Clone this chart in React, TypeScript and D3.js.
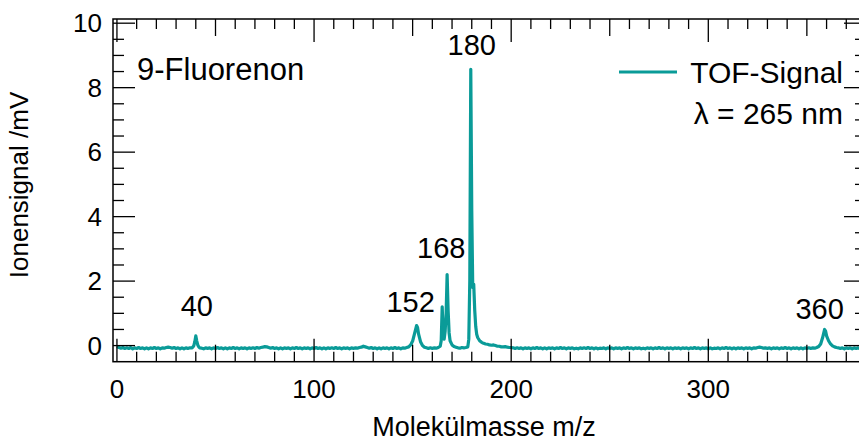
import React from "react";
import * as d3 from "d3";

const W = 859;
const H = 443;

// Mass spectrum: [m/z, signal in mV]
const spectrum: [number, number][] = [
  [0,-0.03],[1,-0.06],[2,-0.08],[3,-0.06],[4,-0.09],[5,-0.07],[6,-0.09],[7,-0.06],[8,-0.10],[9,-0.07],[10,-0.09],[11,-0.06],[12,-0.09],[13,-0.07],[14,-0.10],[15,-0.07],[16,-0.10],[17,-0.07],[18,-0.09],[19,-0.06],[20,-0.09],[21,-0.07],[22,-0.10],[23,-0.07],[24,-0.08],[25,-0.06],[26,-0.05],[27,-0.06],[28,-0.08],[29,-0.06],[30,-0.09],[31,-0.07],[32,-0.10],[33,-0.07],[34,-0.10],[35,-0.07],[36,-0.09],[37,-0.07],[38,-0.07],
  [38.5,-0.05],[39,0.0],[39.5,0.12],[40,0.30],[40.5,0.14],[41,0.02],[41.5,-0.04],[42,-0.07],
  [43,-0.08],[44,-0.10],[45,-0.07],[46,-0.09],[47,-0.07],[48,-0.10],[49,-0.07],[50,-0.09],[51,-0.06],[52,-0.09],[53,-0.07],[54,-0.10],[55,-0.07],[56,-0.10],[57,-0.07],[58,-0.09],[59,-0.06],[60,-0.09],[61,-0.07],[62,-0.10],[63,-0.07],[64,-0.09],[65,-0.07],[66,-0.10],[67,-0.07],[68,-0.09],[69,-0.07],[70,-0.09],[71,-0.06],[72,-0.08],[73,-0.06],[74,-0.05],[75,-0.03],[76,-0.04],[77,-0.06],[78,-0.08],[79,-0.06],[80,-0.09],[81,-0.07],[82,-0.10],[83,-0.07],[84,-0.10],[85,-0.07],[86,-0.09],[87,-0.07],[88,-0.10],[89,-0.07],[90,-0.09],[91,-0.06],[92,-0.09],[93,-0.07],[94,-0.10],[95,-0.07],[96,-0.09],[97,-0.07],[98,-0.10],[99,-0.07],[100,-0.09],[101,-0.06],[102,-0.09],[103,-0.07],[104,-0.10],[105,-0.07],[106,-0.10],[107,-0.07],[108,-0.09],[109,-0.07],[110,-0.09],[111,-0.06],[112,-0.09],[113,-0.07],[114,-0.10],[115,-0.07],[116,-0.09],[117,-0.07],[118,-0.10],[119,-0.07],[120,-0.09],[121,-0.07],[122,-0.08],[123,-0.06],[124,-0.05],[125,-0.02],[126,-0.04],[127,-0.06],[128,-0.08],[129,-0.06],[130,-0.09],[131,-0.07],[132,-0.10],[133,-0.07],[134,-0.10],[135,-0.07],[136,-0.09],[137,-0.07],[138,-0.10],[139,-0.07],[140,-0.09],[141,-0.06],[142,-0.09],[143,-0.07],[144,-0.10],[145,-0.07],[146,-0.08],
  [147,-0.06],[148,-0.04],[149,0.02],[150,0.14],[151,0.38],[152,0.62],[152.5,0.56],[153,0.36],[154,0.12],[155,0.0],[156,-0.05],[157,-0.07],[158,-0.09],[159,-0.07],[160,-0.09],[161,-0.07],[162,-0.08],[163,-0.06],[164,-0.02],
  [164.5,0.15],[165,1.2],[165.5,0.35],[166,0.2],[166.5,0.45],[167,1.0],[167.5,2.2],[168,1.1],[168.5,0.4],[169,0.15],[170,0.02],[171,-0.03],[172,-0.05],[173,-0.07],[174,-0.08],[175,-0.06],[176,-0.07],[177,-0.06],[178,-0.04],
  [178.5,0.2],[179,2.0],[179.5,8.57],[180,4.2],[180.5,1.8],[181,1.9],[181.5,1.1],[182,0.6],[182.5,0.35],[183,0.25],[184,0.15],[185,0.1],[186,0.07],[187,0.05],[188,0.04],[189,0.02],[190,0.01],[191,0.02],[192,0.0],[193,-0.02],[194,-0.02],[195,-0.04],[196,-0.04],[197,-0.03],[198,-0.05],[199,-0.06],[200,-0.06],
  [201,-0.07],[202,-0.09],[203,-0.07],[204,-0.09],[205,-0.07],[206,-0.10],[207,-0.07],[208,-0.09],[209,-0.07],[210,-0.10],[211,-0.07],[212,-0.09],[213,-0.06],[214,-0.09],[215,-0.07],[216,-0.10],[217,-0.07],[218,-0.10],[219,-0.07],[220,-0.09],[221,-0.07],[222,-0.10],[223,-0.07],[224,-0.09],[225,-0.06],[226,-0.09],[227,-0.07],[228,-0.10],[229,-0.07],[230,-0.09],[231,-0.07],[232,-0.10],[233,-0.08],[234,-0.10],[235,-0.07],[236,-0.09],[237,-0.07],[238,-0.09],[239,-0.06],[240,-0.09],[241,-0.07],[242,-0.10],[243,-0.07],[244,-0.10],[245,-0.08],[246,-0.09],[247,-0.07],[248,-0.10],[249,-0.07],[250,-0.09],[251,-0.07],[252,-0.10],[253,-0.07],[254,-0.09],[255,-0.07],[256,-0.10],[257,-0.07],[258,-0.09],[259,-0.06],[260,-0.09],[261,-0.07],[262,-0.10],[263,-0.07],[264,-0.09],[265,-0.07],[266,-0.10],[267,-0.08],[268,-0.10],[269,-0.07],[270,-0.09],[271,-0.07],[272,-0.10],[273,-0.07],[274,-0.09],[275,-0.06],[276,-0.09],[277,-0.07],[278,-0.10],[279,-0.07],[280,-0.09],[281,-0.07],[282,-0.10],[283,-0.07],[284,-0.09],[285,-0.07],[286,-0.10],[287,-0.07],[288,-0.09],[289,-0.07],[290,-0.10],[291,-0.07],[292,-0.09],[293,-0.06],[294,-0.09],[295,-0.07],[296,-0.10],[297,-0.07],[298,-0.09],[299,-0.07],[300,-0.10],[301,-0.07],[302,-0.10],[303,-0.08],[304,-0.09],[305,-0.07],[306,-0.10],[307,-0.07],[308,-0.09],[309,-0.06],[310,-0.09],[311,-0.07],[312,-0.10],[313,-0.07],[314,-0.10],[315,-0.07],[316,-0.09],[317,-0.07],[318,-0.10],[319,-0.07],[320,-0.09],[321,-0.07],[322,-0.10],[323,-0.07],[324,-0.08],[325,-0.06],[326,-0.05],[327,-0.06],[328,-0.08],[329,-0.07],[330,-0.09],[331,-0.07],[332,-0.10],[333,-0.07],[334,-0.09],[335,-0.07],[336,-0.10],[337,-0.07],[338,-0.09],[339,-0.06],[340,-0.09],[341,-0.07],[342,-0.10],[343,-0.07],[344,-0.09],[345,-0.07],[346,-0.10],[347,-0.07],[348,-0.10],[349,-0.07],[350,-0.09],[351,-0.07],[352,-0.09],[353,-0.07],[354,-0.08],
  [355,-0.06],[356,-0.03],[357,0.05],[358,0.25],[359,0.50],[359.5,0.45],[360,0.30],[361,0.15],[362,0.05],[363,-0.01],[364,-0.04],[365,-0.06],[366,-0.07],[367,-0.09],[368,-0.07],[369,-0.10],[370,-0.07],[371,-0.09],[372,-0.07],[373,-0.10],[374,-0.07],[375,-0.09],[376,-0.07],[377,-0.10],[378,-0.07],[379,-0.09],[380,-0.07],
];

// Peak annotations: label, m/z of label centre, signal value at label baseline
const peakLabels = ["40", "152", "168", "180", "360"];
const peakLabelX = [40.5, 149, 164.5, 180, 356.5];
const peakLabelY = [0.93, 1.04, 2.73, 9.0, 0.83];

const xTickLabels = [0, 100, 200, 300];
const yTickLabels = [0, 2, 4, 6, 8, 10];

const xDomain: [number, number] = [-2, 380];
const yDomain: [number, number] = [-0.5, 10.13];

const color = "#0a9b98";
const font = "'Liberation Sans', Arial, Helvetica, sans-serif";

export default function App() {
  const left = 113, right = 866, top = 19, bottom = 361.7;
  const x = d3.scaleLinear().domain(xDomain).range([left, right]);
  const y = d3.scaleLinear().domain(yDomain).range([bottom, top]);

  const line = d3.line<[number, number]>().x(d => x(d[0])).y(d => y(d[1]));

  const xMinor = d3.range(0, 381, 10);
  const yMinor = d3.range(0, 10.01, 0.5);

  const xTickLen = (v: number) => (v % 100 === 0 ? 23 : v % 50 === 0 ? 17 : 10);
  const yTickLen = (v: number) => (Math.abs(v % 2) < 1e-9 ? 22 : 11);

  return (
    <svg width={W} height={H} style={{ position: "absolute", left: 0, top: 0, background: "#fff", overflow: "hidden" }} fontFamily={font}>
      <defs>
        <clipPath id="plot">
          <rect x={left} y={top} width={right - left} height={bottom - top} />
        </clipPath>
      </defs>
      <rect x={0} y={0} width={W} height={H} fill="#fff" />
      <path d={line(spectrum) || ""} fill="none" stroke={color} strokeWidth={3.2} strokeLinejoin="round" clipPath="url(#plot)" />

      <rect x={left} y={top} width={right - left} height={bottom - top} fill="none" stroke="#000" strokeWidth={1.5} />

      {xMinor.map(v => (
        <g key={"xt" + v}>
          <line x1={x(v)} x2={x(v)} y1={bottom} y2={bottom - xTickLen(v)} stroke="#000" strokeWidth={1.3} />
          <line x1={x(v)} x2={x(v)} y1={top} y2={top + xTickLen(v)} stroke="#000" strokeWidth={1.3} />
        </g>
      ))}
      {yMinor.map(v => (
        <g key={"yt" + v}>
          <line x1={left} x2={left + yTickLen(v)} y1={y(v)} y2={y(v)} stroke="#000" strokeWidth={1.3} />
          <line x1={right} x2={right - yTickLen(v)} y1={y(v)} y2={y(v)} stroke="#000" strokeWidth={1.3} />
        </g>
      ))}

      {xTickLabels.map(v => (
        <text key={"xl" + v} x={x(v)} y={398} textAnchor="middle" fontSize={26} fill="#000">{v}</text>
      ))}
      {yTickLabels.map(v => (
        <text key={"yl" + v} x={102} y={y(v) + 9} textAnchor="end" fontSize={26} fill="#000">{v}</text>
      ))}

      <text x={484} y={436} textAnchor="middle" fontSize={27} fill="#000">Molekülmasse m/z</text>
      <text transform={`translate(28,185) rotate(-90)`} textAnchor="middle" fontSize={26} fill="#000">Ionensignal /mV</text>

      {peakLabels.map((t, i) => (
        <text key={"pl" + t} x={x(peakLabelX[i])} y={y(peakLabelY[i])} textAnchor="middle" fontSize={29} fill="#000">{t}</text>
      ))}

      <text x={137} y={80} fontSize={31} fill="#000">9-Fluorenon</text>

      <line x1={619} x2={677} y1={72} y2={72} stroke={color} strokeWidth={3} />
      <text x={843} y={83} textAnchor="end" fontSize={30} fill="#000">TOF-Signal</text>
      <text x={843} y={124} textAnchor="end" fontSize={30} fill="#000">λ = 265 nm</text>
    </svg>
  );
}
